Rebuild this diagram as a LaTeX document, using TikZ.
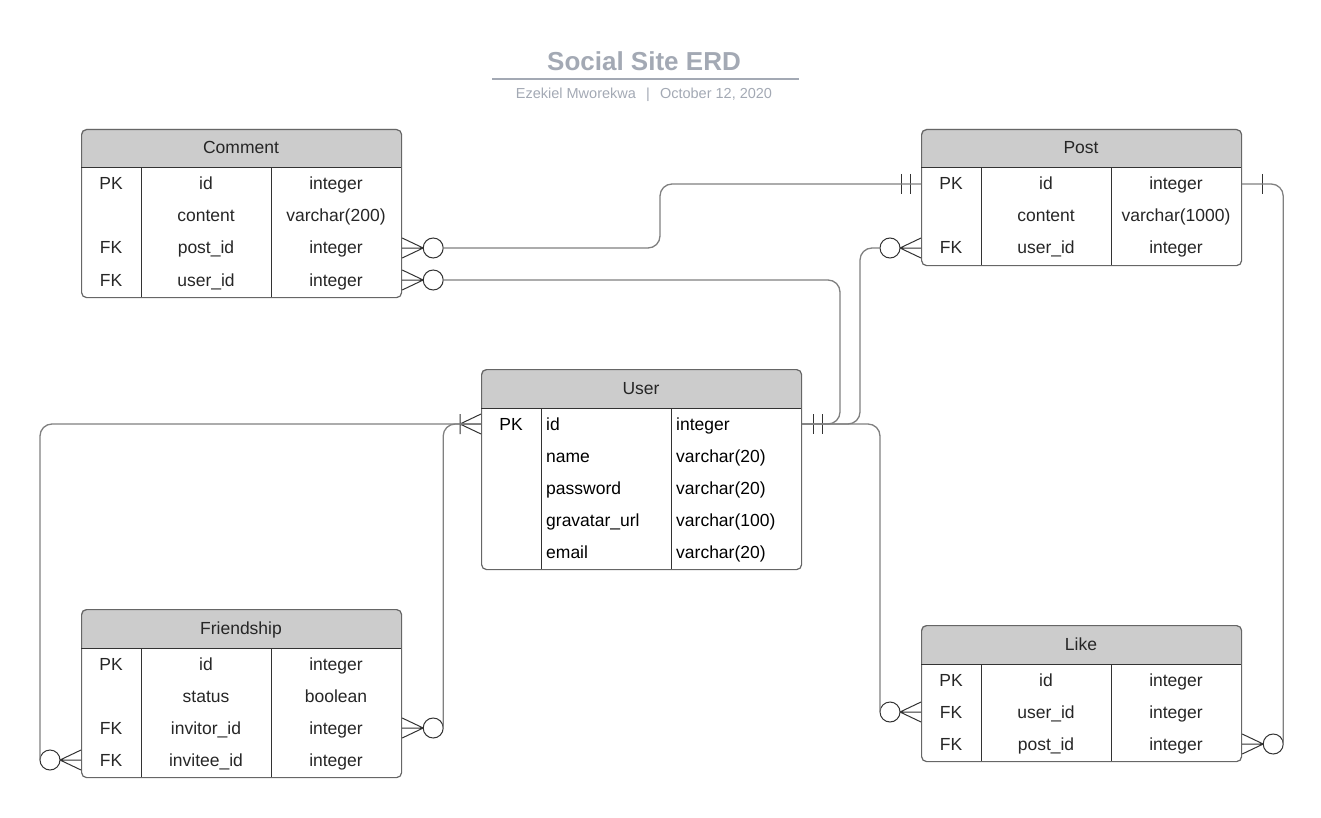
\documentclass[tikz,border=0pt]{standalone}
\usepackage{fontspec}
\setmainfont{Liberation Sans}

\definecolor{hdrgray}{HTML}{CCCCCC}
\definecolor{tbledge}{HTML}{666666}
\definecolor{inkgray}{HTML}{333333}
\definecolor{linkgray}{HTML}{808080}
\definecolor{ttlgray}{HTML}{A3A9B4}
\definecolor{txtgray}{HTML}{262626}

\tikzset{
  ttl/.style={font=\fontsize{26}{30}\selectfont\bfseries, text=ttlgray},
  subttl/.style={font=\fontsize{14.5}{17}\selectfont, text=ttlgray},
  ttlrule/.style={draw=ttlgray, line width=1.6pt},
  hdr/.style={fill=hdrgray, rounded corners=5pt},
  tbl/.style={draw=tbledge, line width=1.2pt, rounded corners=5pt, minimum width=320pt, anchor=north west, inner sep=0pt},
  tblline/.style={draw=inkgray, line width=1pt},
  cell/.style={font=\fontsize{17.5}{20}\selectfont, text=txtgray, inner sep=0pt, text height=16.5pt, text depth=4.5pt},
  lcell/.style={cell, anchor=west},
  link/.style={draw=linkgray, line width=1.3pt, rounded corners=12pt},
  crow/.style={draw=inkgray, line width=1pt},
  zeromany/.pic={
    \draw[crow] (0,-10) -- (21,0) -- (0,10) (0,0) -- (21,0);
    \draw[crow, fill=white] (31,0) circle (10pt);
    \coordinate (-end) at (41,0);},
  onemany/.pic={
    \draw[crow] (0,-10) -- (21,0) -- (0,10) (0,0) -- (21,0) (21,-10) -- (21,10);},
  oneone/.pic={
    \draw[crow] (11,-10) -- (11,10) (20,-10) -- (20,10);},
  justone/.pic={
    \draw[crow] (20,-10) -- (20,10);},
}

\begin{document}
\begin{tikzpicture}[x=1pt,y=-1pt]
	\useasboundingbox (0,0) rectangle (1321,818);
	% heading
	\node[ttl] (title) at (644,61) {Social Site ERD};
	\draw[ttlrule] (492,79) -- (799,79);
	\node[subttl] (byline) at (644,95) {Ezekiel Mworekwa\hspace{0.7em}|\hspace{0.7em}October 12, 2020};

	% Comment
	\fill[hdr] (81,129) rectangle (401,168); \fill[hdrgray] (81,150) rectangle (401,168);
	\node[tbl, minimum height=168pt] (cmt) at (81,129) {};
	\draw[tblline] (81,168) -- (401,168) (141,168) -- (141,297) (271,168) -- (271,297);
	\node[cell] (cmth) at (241,148) {Comment};
	\node[cell] (cmtk1) at (111,184) {PK};\node[cell] (cmtf1) at (206,184) {id};\node[cell] (cmtt1) at (336,184) {integer};
	\node[cell] (cmtf2) at (206,216) {content};\node[cell] (cmtt2) at (336,216) {varchar(200)};
	\node[cell] (cmtk3) at (111,248) {FK};\node[cell] (cmtf3) at (206,248) {post\_id};\node[cell] (cmtt3) at (336,248) {integer};
	\node[cell] (cmtk4) at (111,280) {FK};\node[cell] (cmtf4) at (206,280) {user\_id};\node[cell] (cmtt4) at (336,280) {integer};

	% Post
	\fill[hdr] (921,129) rectangle (1241,168); \fill[hdrgray] (921,150) rectangle (1241,168);
	\node[tbl, minimum height=136pt] (post) at (921,129) {};
	\draw[tblline] (921,168) -- (1241,168) (981,168) -- (981,265) (1111,168) -- (1111,265);
	\node[cell] (posth) at (1081,148) {Post};
	\node[cell] (postk1) at (951,184) {PK};\node[cell] (postf1) at (1046,184) {id};\node[cell] (postt1) at (1176,184) {integer};
	\node[cell] (postf2) at (1046,216) {content};\node[cell] (postt2) at (1176,216) {varchar(1000)};
	\node[cell] (postk3) at (951,248) {FK};\node[cell] (postf3) at (1046,248) {user\_id};\node[cell] (postt3) at (1176,248) {integer};

	% User
	\fill[hdr] (481,369) rectangle (801,408); \fill[hdrgray] (481,390) rectangle (801,408);
	\node[tbl, minimum height=200pt] (usr) at (481,369) {};
	\draw[tblline] (481,408) -- (801,408) (541,408) -- (541,569) (671,408) -- (671,569);
	\node[cell] (usrh) at (641,388) {User};
	\node[cell, text=black] (usrk1) at (511,424) {PK};\node[lcell, text=black] (usrf1) at (546,424) {id};\node[lcell, text=black] (usrt1) at (676,424) {integer};
	\node[lcell, text=black] (usrf2) at (546,456) {name};\node[lcell, text=black] (usrt2) at (676,456) {varchar(20)};
	\node[lcell, text=black] (usrf3) at (546,488) {password};\node[lcell, text=black] (usrt3) at (676,488) {varchar(20)};
	\node[lcell, text=black] (usrf4) at (546,520) {gravatar\_url};\node[lcell, text=black] (usrt4) at (676,520) {varchar(100)};
	\node[lcell, text=black] (usrf5) at (546,552) {email};\node[lcell, text=black] (usrt5) at (676,552) {varchar(20)};

	% Friendship
	\fill[hdr] (81,609) rectangle (401,648); \fill[hdrgray] (81,630) rectangle (401,648);
	\node[tbl, minimum height=168pt] (frd) at (81,609) {};
	\draw[tblline] (81,648) -- (401,648) (141,648) -- (141,777) (271,648) -- (271,777);
	\node[cell] (frdh) at (241,628) {Friendship};
	\node[cell] (frdk1) at (111,664) {PK};\node[cell] (frdf1) at (206,664) {id};\node[cell] (frdt1) at (336,664) {integer};
	\node[cell] (frdf2) at (206,696) {status};\node[cell] (frdt2) at (336,696) {boolean};
	\node[cell] (frdk3) at (111,728) {FK};\node[cell] (frdf3) at (206,728) {invitor\_id};\node[cell] (frdt3) at (336,728) {integer};
	\node[cell] (frdk4) at (111,760) {FK};\node[cell] (frdf4) at (206,760) {invitee\_id};\node[cell] (frdt4) at (336,760) {integer};

	% Like
	\fill[hdr] (921,625) rectangle (1241,664); \fill[hdrgray] (921,646) rectangle (1241,664);
	\node[tbl, minimum height=136pt] (lik) at (921,625) {};
	\draw[tblline] (921,664) -- (1241,664) (981,664) -- (981,761) (1111,664) -- (1111,761);
	\node[cell] (likh) at (1081,644) {Like};
	\node[cell] (likk1) at (951,680) {PK};\node[cell] (likf1) at (1046,680) {id};\node[cell] (likt1) at (1176,680) {integer};
	\node[cell] (likk2) at (951,712) {FK};\node[cell] (likf2) at (1046,712) {user\_id};\node[cell] (likt2) at (1176,712) {integer};
	\node[cell] (likk3) at (951,744) {FK};\node[cell] (likf3) at (1046,744) {post\_id};\node[cell] (likt3) at (1176,744) {integer};

	% cardinality marks
	\pic (cp) at (cmt.east |- cmtf3) {zeromany};
	\pic (cu) at (cmt.east |- cmtf4) {zeromany};
	\pic[xscale=-1] (pu) at (post.west |- postf3) {zeromany};
	\pic[xscale=-1] at (post.west |- postf1) {oneone};
	\pic at (post.east |- postf1) {justone};
	\pic at (usr.east |- usrf1) {oneone};
	\pic[xscale=-1] at (usr.west |- usrf1) {onemany};
	\pic[xscale=-1] (lu) at (lik.west |- likf2) {zeromany};
	\pic (lp) at (lik.east |- likf3) {zeromany};
	\pic (fi) at (frd.east |- frdf3) {zeromany};
	\pic[xscale=-1] (fe) at (frd.west |- frdf4) {zeromany};

	% relations
	\draw[link] (cp-end) -- (660,248) -- (660,184) -- (post.west |- postf1);
	\draw[link] (cu-end) -- (840,280) -- (840,424) -- (usr.east |- usrf1);
	\draw[link] (pu-end) -- (860,248) -- (860,424) -- (usr.east |- usrf1);
	\draw[link] (lu-end) |- (usr.east |- usrf1);
	\draw[link] (post.east |- postf1) -| (lp-end);
	\draw[link] (fi-end) |- (usr.west |- usrf1);
	\draw[link] (fe-end) |- (usr.west |- usrf1);
\end{tikzpicture}
\end{document}
